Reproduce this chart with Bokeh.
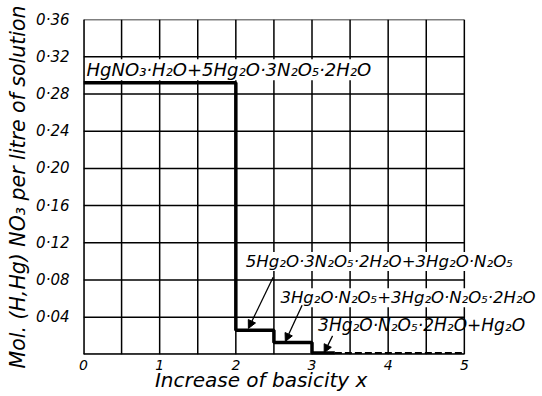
from bokeh.plotting import figure
from bokeh.models import (Range1d, FixedTicker, Label, Arrow, NormalHead,
                          ColumnDataSource, CustomJSTickFormatter)
from bokeh.embed import file_html
from bokeh.resources import INLINE

# ---- data ----
step_edges = [0, 2, 2.5, 3, 3.3]             # basicity x where the solid steps change
step_levels = [0.292, 0.026, 0.013, 0.0015]  # mol per litre on each step
dash_x = [3.3, 5]
dash_y = [0.0015, 0.0015]

x_ticks = [0, 1, 2, 3, 4, 5]
x_grid = [0, 0.5, 1, 1.5, 2, 2.5, 3, 3.5, 4, 4.5, 5]
y_ticks = [0, 0.04, 0.08, 0.12, 0.16, 0.20, 0.24, 0.28, 0.32, 0.36]
x_min, x_max = 0, 5
y_min, y_max = 0, 0.36

label_texts = [
    "HgNO₃·H₂O+5Hg₂O·3N₂O₅·2H₂O",
    "5Hg₂O·3N₂O₅·2H₂O+3Hg₂O·N₂O₅",
    "3Hg₂O·N₂O₅+3Hg₂O·N₂O₅·2H₂O",
    "3Hg₂O·N₂O₅·2H₂O+Hg₂O",
]
label_x = [0.04, 2.13, 2.585, 3.08]
label_y = [0.306, 0.100, 0.061, 0.032]
label_size = ["18px", "16.6px", "16.5px", "17px"]
label_bg = ["white", "white", "white", None]

arrow_x0 = [2.49, 2.87, 3.27]
arrow_y0 = [0.083, 0.053, 0.020]
arrow_x1 = [2.165, 2.65, 3.16]
arrow_y1 = [0.028, 0.014, 0.002]

FONT = "DejaVu Sans"

p = figure(frame_width=457, frame_height=335,
           x_range=Range1d(0, 6), y_range=Range1d(y_min, y_max),
           output_backend="svg", toolbar_location=None,
           min_border_left=83, min_border_right=0,
           min_border_top=19, min_border_bottom=40)

p.background_fill_color = "white"
p.border_fill_color = "white"
p.outline_line_color = None
p.xgrid.visible = False
p.ygrid.visible = False

# grid and box, limited to the 0..5 x 0..0.36 area
vx = ColumnDataSource(dict(x=x_grid, y0=[y_min] * len(x_grid), y1=[y_max] * len(x_grid)))
hy = ColumnDataSource(dict(y=y_ticks, x0=[x_min] * len(y_ticks), x1=[x_max] * len(y_ticks)))
p.segment(x0="x", y0="y0", x1="x", y1="y1", source=vx, line_color="black", line_width=1.5)
p.segment(x0="x0", y0="y", x1="x1", y1="y", source=hy, line_color="black", line_width=1.5)
p.segment(x0=[x_min, x_min], y0=[y_min, y_min], x1=[x_min, x_max], y1=[y_max, y_min],
          line_color="black", line_width=2.5)

# axes
p.xaxis.ticker = FixedTicker(ticks=x_ticks)
p.yaxis.ticker = FixedTicker(ticks=y_ticks)
p.xaxis.bounds = (x_min, x_max)
p.yaxis.formatter = CustomJSTickFormatter(
    code="return tick == 0 ? '' : tick.toFixed(2).replace('.', '·');")
p.xaxis.formatter = CustomJSTickFormatter(code="return tick.toFixed(0);")
for ax in (p.xaxis, p.yaxis):
    ax.major_tick_line_color = None
    ax.minor_tick_line_color = None
    ax.axis_line_color = None
    ax.major_label_text_font = FONT
    ax.major_label_text_font_style = "italic"
    ax.major_label_text_font_size = "15px"
    ax.major_label_text_color = "black"
    ax.axis_label_text_font = FONT
    ax.axis_label_text_font_style = "italic"
    ax.axis_label_text_color = "black"
p.xaxis.major_label_text_font_size = "14px"
p.xaxis.axis_label_text_font_size = "20px"
p.yaxis.axis_label_text_font_size = "20.5px"
p.xaxis.major_label_standoff = -1
p.xaxis.axis_label_standoff = -5
p.yaxis.major_label_standoff = 8
p.yaxis.axis_label_standoff = 3
p.yaxis.major_label_orientation = "horizontal"
# trailing no-break spaces shift the centred title over the 0..5 part of the wider frame
p.xaxis.axis_label = "Increase of basicity x" + "\u00a0" * 16
p.yaxis.axis_label = "Mol. (H,Hg) NO₃ per litre of solution"

# step curve
sx, sy = [], []
for i, lv in enumerate(step_levels):
    sx += [step_edges[i], step_edges[i + 1]]
    sy += [lv, lv]
p.line(sx, sy, line_color="black", line_width=3.5)
p.line(dash_x, dash_y, line_color="black", line_width=2, line_dash="7 3")

# labels
for t, x, y, fs, bg in zip(label_texts, label_x, label_y, label_size, label_bg):
    p.add_layout(Label(x=x, y=y, text=t, text_font=FONT, text_font_style="italic",
                       text_font_size=fs, text_baseline="middle", text_align="left",
                       text_color="black",
                       background_fill_color=bg))

# arrows
asrc = ColumnDataSource(dict(x0=arrow_x0, y0=arrow_y0, x1=arrow_x1, y1=arrow_y1))
p.add_layout(Arrow(x_start="x0", y_start="y0", x_end="x1", y_end="y1", source=asrc,
                   line_color="black", line_width=1.3,
                   end=NormalHead(size=8, fill_color="black", line_color="black")))

open("out.html", "w").write(file_html(p, INLINE))
